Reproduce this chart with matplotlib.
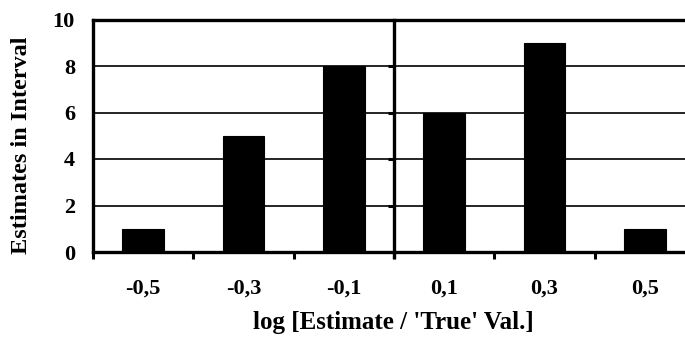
import matplotlib
matplotlib.use("Agg")
import matplotlib.pyplot as plt
from matplotlib.lines import TICKLEFT

# histogram of log(estimate / true value), bins of width 0.2
bin_centers = [-0.5, -0.3, -0.1, 0.1, 0.3, 0.5]
bin_labels = ["-0,5", "-0,3", "-0,1", "0,1", "0,3", "0,5"]
counts = [1, 5, 8, 6, 9, 1]
bin_edges = [-0.6, -0.4, -0.2, 0.0, 0.2, 0.4, 0.6]
y_ticks = [0, 2, 4, 6, 8, 10]

plt.rcParams["font.family"] = ["Liberation Serif", "DejaVu Serif"]
plt.rcParams["font.weight"] = "bold"

W, H = 685, 338
fig = plt.figure(figsize=(W / 100, H / 100), dpi=100)
# plot area runs past the right edge of the figure
left, right, top, bottom = 93, 695, 19.5, 252
aw, ah = right - left, bottom - top
ax = fig.add_axes([left / W, 1 - bottom / H, aw / W, ah / H])

ax.set_xlim(bin_edges[0], bin_edges[-1])
ax.set_ylim(0, 10)

for y in y_ticks[1:-1]:
    ax.axhline(y, color="black", lw=1.2, zorder=1)

ax.bar(bin_centers, counts, width=0.083, color="black", edgecolor="black", lw=0.8, zorder=2)

# zero line with its own small ticks
ax.axvline(0, color="black", lw=2.4, zorder=3, ymin=-0.02, clip_on=False)
ax.plot([0] * 4, y_ticks[1:-1], ls="none", marker=TICKLEFT, ms=4, mew=2.2, color="black", zorder=3)

for side in ["left", "bottom", "top"]:
    ax.spines[side].set_linewidth(2.4)
ax.spines["right"].set_visible(False)

ax.set_xticks(bin_edges)
ax.set_xticklabels([])
ax.set_xticks(bin_centers, minor=True)
ax.set_xticklabels(bin_labels, minor=True)
ax.tick_params(axis="x", which="major", direction="out", length=5, width=2.2)
ax.tick_params(axis="x", which="minor", length=0, pad=19, labelsize=16)

ax.set_yticks(y_ticks)
ax.set_yticklabels([str(v) for v in y_ticks])
ax.tick_params(axis="y", length=0, pad=13, labelsize=16)

ax.set_xlabel("log [Estimate / 'True' Val.]", fontsize=18, fontweight="bold")
ax.xaxis.set_label_coords((393.5 - left) / aw, -(311 - bottom) / ah)
ax.set_ylabel("Estimates in Interval", fontsize=17.5, fontweight="bold")
ax.yaxis.set_label_coords(-(left - 32) / aw, (bottom - 145) / ah)

fig.savefig("out.png", dpi=100)
